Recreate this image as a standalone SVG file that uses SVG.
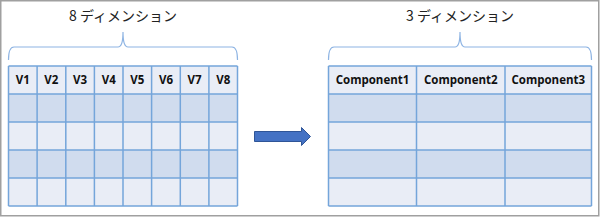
<svg xmlns="http://www.w3.org/2000/svg" width="600" height="217" viewBox="0 0 600 217">
<style>
.frame{fill:#fff;stroke:#a0a0a0;stroke-width:1.5}
.hdr{fill:#e9edf6}
.dark{fill:#d0dcee}
.light{fill:#e9edf6}
.grid{fill:none;stroke:#74a5da;stroke-width:1.5}
.brace{fill:none;stroke:#8eb4e3;stroke-width:1.2}
.title{font-family:"Noto Sans CJK JP","Noto Sans",sans-serif;font-size:14px;fill:#222;text-anchor:middle}
.h{font-family:"Open Sans","Noto Sans",sans-serif;font-weight:bold;font-size:11.5px;fill:#111;text-anchor:middle}
.arrow{fill:#4472c4;stroke:#2f5597;stroke-width:1}
</style>
<rect class="frame" x="0.75" y="0.75" width="598" height="215"/>

<g id="left-table">
<text class="title" x="123" y="21">8 ディメンション</text>
<path class="brace" d="M8.5,60 Q8.5,47 14,47 L118,47 Q123,47 123,32 Q123,47 128,47 L232,47 Q237.5,47 237.5,60"/>
<rect class="hdr" x="8.5" y="66" width="229" height="28"/>
<rect class="dark" x="8.5" y="94" width="229" height="28"/>
<rect class="light" x="8.5" y="122" width="229" height="28"/>
<rect class="dark" x="8.5" y="150" width="229" height="28"/>
<rect class="light" x="8.5" y="178" width="229" height="28"/>
<path class="grid" d="M8.5,66H237.5M8.5,94H237.5M8.5,122H237.5M8.5,150H237.5M8.5,178H237.5M8.5,206H237.5
M8.5,66V206M37.1,66V206M65.8,66V206M94.4,66V206M123,66V206M151.6,66V206M180.3,66V206M208.9,66V206M237.5,66V206"/>
<text class="h" x="22.8" y="84">V1</text>
<text class="h" x="51.4" y="84">V2</text>
<text class="h" x="80.1" y="84">V3</text>
<text class="h" x="108.7" y="84">V4</text>
<text class="h" x="137.3" y="84">V5</text>
<text class="h" x="166" y="84">V6</text>
<text class="h" x="194.6" y="84">V7</text>
<text class="h" x="223.2" y="84">V8</text>
</g>

<g id="connectors">
<path class="arrow" d="M254.5,131.5H301.5V127.5L310.5,136.5L301.5,145.5V141.5H254.5Z"/>
</g>

<g id="right-table">
<text class="title" x="460" y="21">3 ディメンション</text>
<path class="brace" d="M328.5,60 Q328.5,47 334,47 L455,47 Q460,47 460,32 Q460,47 465,47 L586,47 Q591.5,47 591.5,60"/>
<rect class="hdr" x="328.5" y="66" width="263" height="28"/>
<rect class="dark" x="328.5" y="94" width="263" height="28"/>
<rect class="light" x="328.5" y="122" width="263" height="28"/>
<rect class="dark" x="328.5" y="150" width="263" height="28"/>
<rect class="light" x="328.5" y="178" width="263" height="28"/>
<path class="grid" d="M328.5,66H591.5M328.5,94H591.5M328.5,122H591.5M328.5,150H591.5M328.5,178H591.5M328.5,206H591.5
M328.5,66V206M416.5,66V206M505,66V206M591.5,66V206"/>
<text class="h" x="372.5" y="84">Component1</text>
<text class="h" x="460.8" y="84">Component2</text>
<text class="h" x="548.3" y="84">Component3</text>
</g>
</svg>
